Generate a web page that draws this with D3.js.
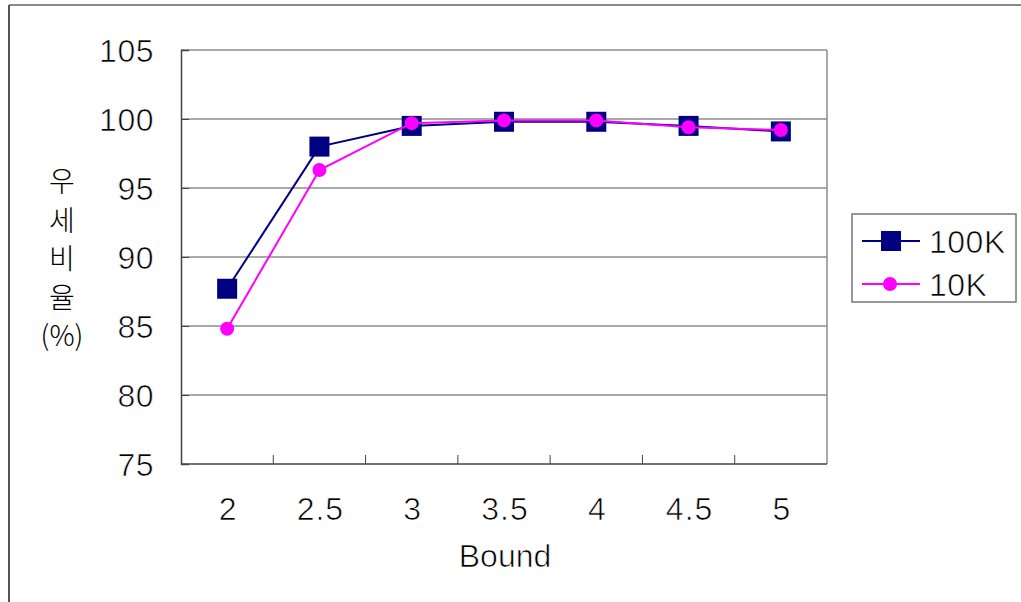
<!DOCTYPE html>
<html>
<head>
<meta charset="utf-8">
<script src="https://cdn.jsdelivr.net/npm/d3@7"></script>
<style>
  html, body { margin: 0; padding: 0; background: #fff; }
  svg text { font-family: "Liberation Sans", Arial, sans-serif; fill: #000; }
  /* thin the glyph strokes a little */
  svg text.thin { stroke: #fff; stroke-width: 0.7px; paint-order: fill; }
</style>
</head>
<body>
<svg id="chart" width="1021" height="602"></svg>
<script>
// Bound values on the x axis
const bounds = ["2", "2.5", "3", "3.5", "4", "4.5", "5"];
// Ratio (%) for each run size
const series100K = [87.7, 98.0, 99.5, 99.8, 99.8, 99.5, 99.1];
const series10K = [84.8, 96.3, 99.7, 99.9, 99.9, 99.4, 99.2];
const yTicks = [75, 80, 85, 90, 95, 100, 105];
const seriesNames = ["100K", "10K"];
const yLabelChars = ["우", "세", "비", "율", "(%)"];

const svg = d3.select("#chart");
const W = 1021, H = 602;
const plot = { left: 181, right: 827, top: 50, bottom: 464 };

// outer frame
svg.append("line").attr("x1", 9).attr("x2", W).attr("y1", 5).attr("y2", 5)
  .attr("stroke", "#8a8a8a").attr("stroke-width", 2);
svg.append("line").attr("x1", 9).attr("x2", 9).attr("y1", 5).attr("y2", H)
  .attr("stroke", "#555").attr("stroke-width", 2);

const x = d3.scaleBand().domain(bounds).range([plot.left, plot.right]);
const y = d3.scaleLinear().domain([75, 105]).range([plot.bottom, plot.top]);
const cx = d => x(d) + x.bandwidth() / 2;

// gridlines
svg.append("g").selectAll("line").data(yTicks.filter(t => t > 75)).join("line")
  .attr("x1", plot.left).attr("x2", plot.right)
  .attr("y1", d => y(d)).attr("y2", d => y(d))
  .attr("stroke", "#8c8c8c").attr("stroke-width", 1.5);
// right border of plot area
svg.append("line").attr("x1", plot.right).attr("x2", plot.right)
  .attr("y1", plot.top).attr("y2", plot.bottom)
  .attr("stroke", "#8c8c8c").attr("stroke-width", 1.5);

// y axis
const yAxis = d3.axisLeft(y).tickValues(yTicks).tickSize(-8).tickPadding(28);
const gy = svg.append("g").attr("transform", `translate(${plot.left},0)`).call(yAxis);
gy.select(".domain").attr("stroke", "#444").attr("stroke-width", 1.5);
gy.selectAll(".tick line").attr("stroke", "#444");
gy.selectAll(".tick text").attr("class", "thin").attr("font-size", 32)
  .attr("letter-spacing", 0.5).attr("dy", "0.36em").attr("x", -27);

// x axis with ticks between categories, pointing inward
const gx = svg.append("g").attr("transform", `translate(0,${plot.bottom})`);
gx.append("line").attr("x1", plot.left).attr("x2", plot.right)
  .attr("stroke", "#444").attr("stroke-width", 1.5);
gx.selectAll("line.tk").data(bounds.slice(1)).join("line").attr("class", "tk")
  .attr("x1", d => x(d)).attr("x2", d => x(d)).attr("y1", 0).attr("y2", -9)
  .attr("stroke", "#444").attr("stroke-width", 1);
gx.selectAll("text").data(bounds).join("text").attr("class", "thin")
  .attr("x", d => cx(d) + 1).attr("y", 56).attr("text-anchor", "middle")
  .attr("font-size", 32).attr("letter-spacing", 1).text(d => d);

// axis titles
svg.append("text").attr("class", "thin").attr("x", 505).attr("y", 567)
  .attr("text-anchor", "middle").attr("font-size", 32).text("Bound");
svg.append("g").selectAll("text").data(yLabelChars).join("text")
  .attr("x", 62).attr("y", (d, i) => 192 + i * 38.5)
  .attr("text-anchor", "middle")
  .style("font-family", "'Noto Sans CJK KR', sans-serif")
  .attr("font-size", 28).attr("font-weight", 300).text(d => d);

// series
const colors = { "100K": "#000080", "10K": "#ff00ff" };
const line = d3.line().x((d, i) => cx(bounds[i])).y(d => y(d));

svg.append("path").datum(series100K).attr("d", line)
  .attr("fill", "none").attr("stroke", colors["100K"]).attr("stroke-width", 2);
svg.append("g").selectAll("rect").data(series100K).join("rect")
  .attr("x", (d, i) => cx(bounds[i]) - 10).attr("y", d => y(d) - 10)
  .attr("width", 20).attr("height", 20).attr("fill", colors["100K"]);

svg.append("path").datum(series10K).attr("d", line)
  .attr("fill", "none").attr("stroke", colors["10K"]).attr("stroke-width", 2);
svg.append("g").selectAll("circle").data(series10K).join("circle")
  .attr("cx", (d, i) => cx(bounds[i])).attr("cy", d => y(d))
  .attr("r", 7).attr("fill", colors["10K"]);

// legend
const lg = svg.append("g");
lg.append("rect").attr("x", 852).attr("y", 214).attr("width", 164).attr("height", 88)
  .attr("fill", "#fff").attr("stroke", "#777").attr("stroke-width", 1.5);
seriesNames.forEach((name, i) => {
  const ly = 241 + i * 43;
  lg.append("line").attr("x1", 862).attr("x2", 920).attr("y1", ly).attr("y2", ly)
    .attr("stroke", colors[name]).attr("stroke-width", 2);
  if (name === "100K") {
    lg.append("rect").attr("x", 881).attr("y", ly - 10).attr("width", 20).attr("height", 20)
      .attr("fill", colors[name]);
  } else {
    lg.append("circle").attr("cx", 890).attr("cy", ly).attr("r", 7).attr("fill", colors[name]);
  }
  lg.append("text").attr("class", "thin").attr("x", 929).attr("y", ly + 11.5)
    .attr("font-size", 32).attr("letter-spacing", 0.5).text(name);
});
</script>
</body>
</html>
